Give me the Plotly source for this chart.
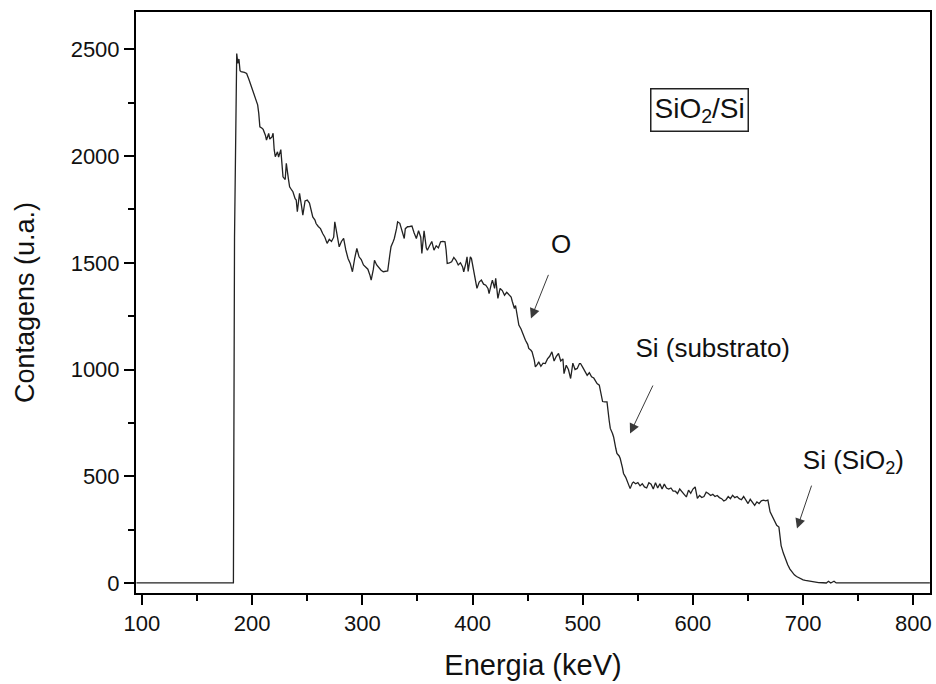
import plotly.graph_objects as go

# RBS spectrum of a SiO2 film on a Si substrate
energia = [
    95, 183, 184, 185, 186, 187, 188, 189, 190, 193, 195, 197, 199, 201, 203, 205, 206, 207,
    209, 210, 212, 213, 215, 216, 218, 219, 220, 221, 223, 224, 226, 227, 228, 230, 231, 233,
    234, 236, 237, 239, 240, 241, 243, 245, 246, 248, 250, 252, 254, 255, 257, 258, 260, 262,
    264, 266, 268, 270, 272, 274, 275, 277, 279, 281, 283, 285, 287, 289, 291, 293, 295, 297,
    299, 301, 303, 305, 307, 308, 310, 311, 313, 315, 317, 319, 321, 323, 325, 326, 328, 329,
    331, 332, 334, 336, 338, 339, 341, 343, 345, 347, 349, 351, 353, 354, 356, 358, 359, 361,
    363, 365, 367, 369, 371, 373, 375, 376, 377, 379, 381, 383, 385, 387, 389, 391, 392, 394,
    395, 396, 398, 399, 401, 403, 404, 406, 408, 410, 412, 414, 415, 417, 418, 420, 421, 423,
    425, 427, 429, 431, 433, 435, 436, 438, 439, 441, 442, 444, 445, 447, 448, 450, 451, 453,
    454, 456, 457, 459, 460, 462, 464, 466, 468, 470, 472, 474, 476, 478, 480, 482, 483, 485,
    487, 489, 491, 493, 495, 497, 498, 500, 502, 504, 506, 508, 510, 512, 513, 515, 516, 518,
    520, 522, 524, 525, 527, 528, 530, 531, 533, 534, 536, 537, 539, 540, 542, 543, 545, 546,
    548, 550, 552, 554, 556, 558, 560, 562, 564, 566, 568, 570, 572, 574, 576, 578, 580, 582,
    584, 586, 588, 590, 592, 594, 596, 598, 600, 602, 604, 606, 608, 610, 612, 614, 616, 618,
    620, 622, 624, 626, 628, 630, 632, 634, 636, 638, 640, 642, 644, 646, 648, 650, 652, 654,
    656, 658, 660, 662, 664, 666, 668, 670, 672, 674, 676, 678, 679, 680, 682, 684, 686, 688,
    690, 692, 694, 696, 698, 700, 702, 705, 708, 711, 714, 718, 721, 723, 725, 728, 730, 815,
]
contagens = [
    0, 0, 1620, 2170, 2480, 2434, 2455, 2400, 2395, 2392, 2387, 2360, 2330, 2300, 2280, 2240, 2200, 2137,
    2130, 2125, 2098, 2075, 2106, 2080, 2090, 2107, 2030, 1997, 2020, 1995, 2030, 1943, 1903, 1890, 1966, 1890,
    1856, 1840, 1833, 1800, 1794, 1739, 1825, 1760, 1723, 1790, 1794, 1780, 1740, 1715, 1700, 1684, 1670, 1660,
    1637, 1620, 1591, 1610, 1600, 1620, 1692, 1640, 1575, 1600, 1614, 1560, 1520, 1497, 1458, 1520, 1567, 1528,
    1515, 1490, 1481, 1470, 1440, 1419, 1470, 1512, 1490, 1475, 1465, 1458, 1460, 1462, 1540, 1575, 1600, 1614,
    1660, 1692, 1685, 1650, 1614, 1660, 1669, 1670, 1672, 1640, 1614, 1650, 1620, 1544, 1650, 1570, 1559, 1580,
    1600, 1559, 1580, 1570, 1598, 1600, 1598, 1560, 1497, 1500, 1505, 1525, 1512, 1490, 1500, 1480, 1458, 1500,
    1528, 1460, 1528, 1520, 1470, 1419, 1380, 1410, 1419, 1400, 1395, 1380, 1356, 1400, 1419, 1380, 1427, 1333,
    1380, 1370, 1348, 1362, 1350, 1340, 1320, 1286, 1300, 1247, 1208, 1190, 1176, 1155, 1137, 1118, 1099, 1090,
    1083, 1044, 1012, 1025, 1036, 1015, 1030, 1028, 1050, 1062, 1083, 1040, 1062, 1075, 1040, 1050, 981, 1020,
    1000, 958, 1030, 1000, 1005, 1028, 1028, 1010, 989, 973, 985, 966, 960, 945, 934, 927, 895, 850,
    848, 848, 760, 724, 700, 684, 630, 607, 595, 583, 540, 513, 495, 481, 460, 442, 468, 473,
    465, 470, 455, 465, 450, 445, 470, 463, 440, 470, 445, 465, 440, 463, 445, 440, 445, 430,
    430, 419, 440, 425, 415, 403, 435, 420, 440, 450, 396, 410, 400, 405, 425, 419, 410, 415,
    405, 410, 400, 395, 384, 390, 405, 395, 411, 400, 405, 395, 390, 405, 385, 372, 392, 375,
    364, 380, 372, 385, 388, 385, 388, 333, 310, 295, 270, 262, 200, 175, 140, 110, 85, 65,
    50, 38, 30, 24, 19, 15, 12, 9, 6, 4, 2, 1, 0, 8, 0, 8, 0, 0,
]

x_ticks = [100, 200, 300, 400, 500, 600, 700, 800]
y_ticks = [0, 500, 1000, 1500, 2000, 2500]

FONT = "Liberation Sans, Arial, sans-serif"
INK = "#111111"

fig = go.Figure()
fig.add_trace(go.Scatter(
    x=energia, y=contagens, mode="lines",
    line=dict(color="#222222", width=1.3),
    showlegend=False, hoverinfo="skip",
))

axis_common = dict(
    showgrid=False, zeroline=False,
    showline=True, linecolor="black", linewidth=2, mirror=True,
    ticks="outside", ticklen=10, tickwidth=2, tickcolor="black",
    tickfont=dict(family=FONT, size=22, color=INK),
)

fig.update_xaxes(
    range=[94.6, 815.1], tickmode="array", tickvals=x_ticks,
    minor=dict(ticks="outside", ticklen=6, tickwidth=2, tickcolor="black", dtick=50, tick0=0),
    title=dict(text="Energia (keV)", font=dict(family=FONT, size=29, color=INK), standoff=19),
    **axis_common,
)
fig.update_yaxes(
    range=[-47, 2675], tickmode="array", tickvals=y_ticks,
    minor=dict(ticks="outside", ticklen=6, tickwidth=2, tickcolor="black", dtick=250, tick0=0),
    title=dict(text="Contagens (u.a.)", font=dict(family=FONT, size=27, color=INK), standoff=28),
    **axis_common,
)

label_font = dict(family=FONT, size=26, color=INK)
arrow_style = dict(showarrow=True, arrowhead=2, arrowsize=2, arrowwidth=1,
                   arrowcolor="#3a3a3a", axref="pixel", ayref="pixel")

annotations = [
    # sample label in a box
    dict(x=605.8, y=2215, xref="x", yref="y", text="SiO<sub>2</sub>/Si", showarrow=False,
         font=dict(family=FONT, size=28, color=INK),
         bordercolor="#222222", borderwidth=1.5, borderpad=3, bgcolor="white"),
    # edge labels, each with an arrow pointing at its edge in the spectrum
    dict(x=453.0, y=1239, xref="x", yref="y", ax=30, ay=-75, text="O",
         font=label_font, startstandoff=16, **arrow_style),
    dict(x=542.9, y=700, xref="x", yref="y", ax=40.6, ay=-85.3, text="Si (substrato)",
         font=label_font, width=238, align="right", startstandoff=23, **arrow_style),
    dict(x=694.4, y=255, xref="x", yref="y", ax=22.6, ay=-66.6, text="Si (SiO<sub>2</sub>)",
         font=label_font, width=168, align="right", startstandoff=6, **arrow_style),
]

fig.update_layout(
    width=936, height=684,
    margin=dict(l=136, r=4, t=12, b=91),
    paper_bgcolor="white", plot_bgcolor="white",
    font=dict(family=FONT, color=INK),
    annotations=annotations,
)

fig.write_html("out.html")
